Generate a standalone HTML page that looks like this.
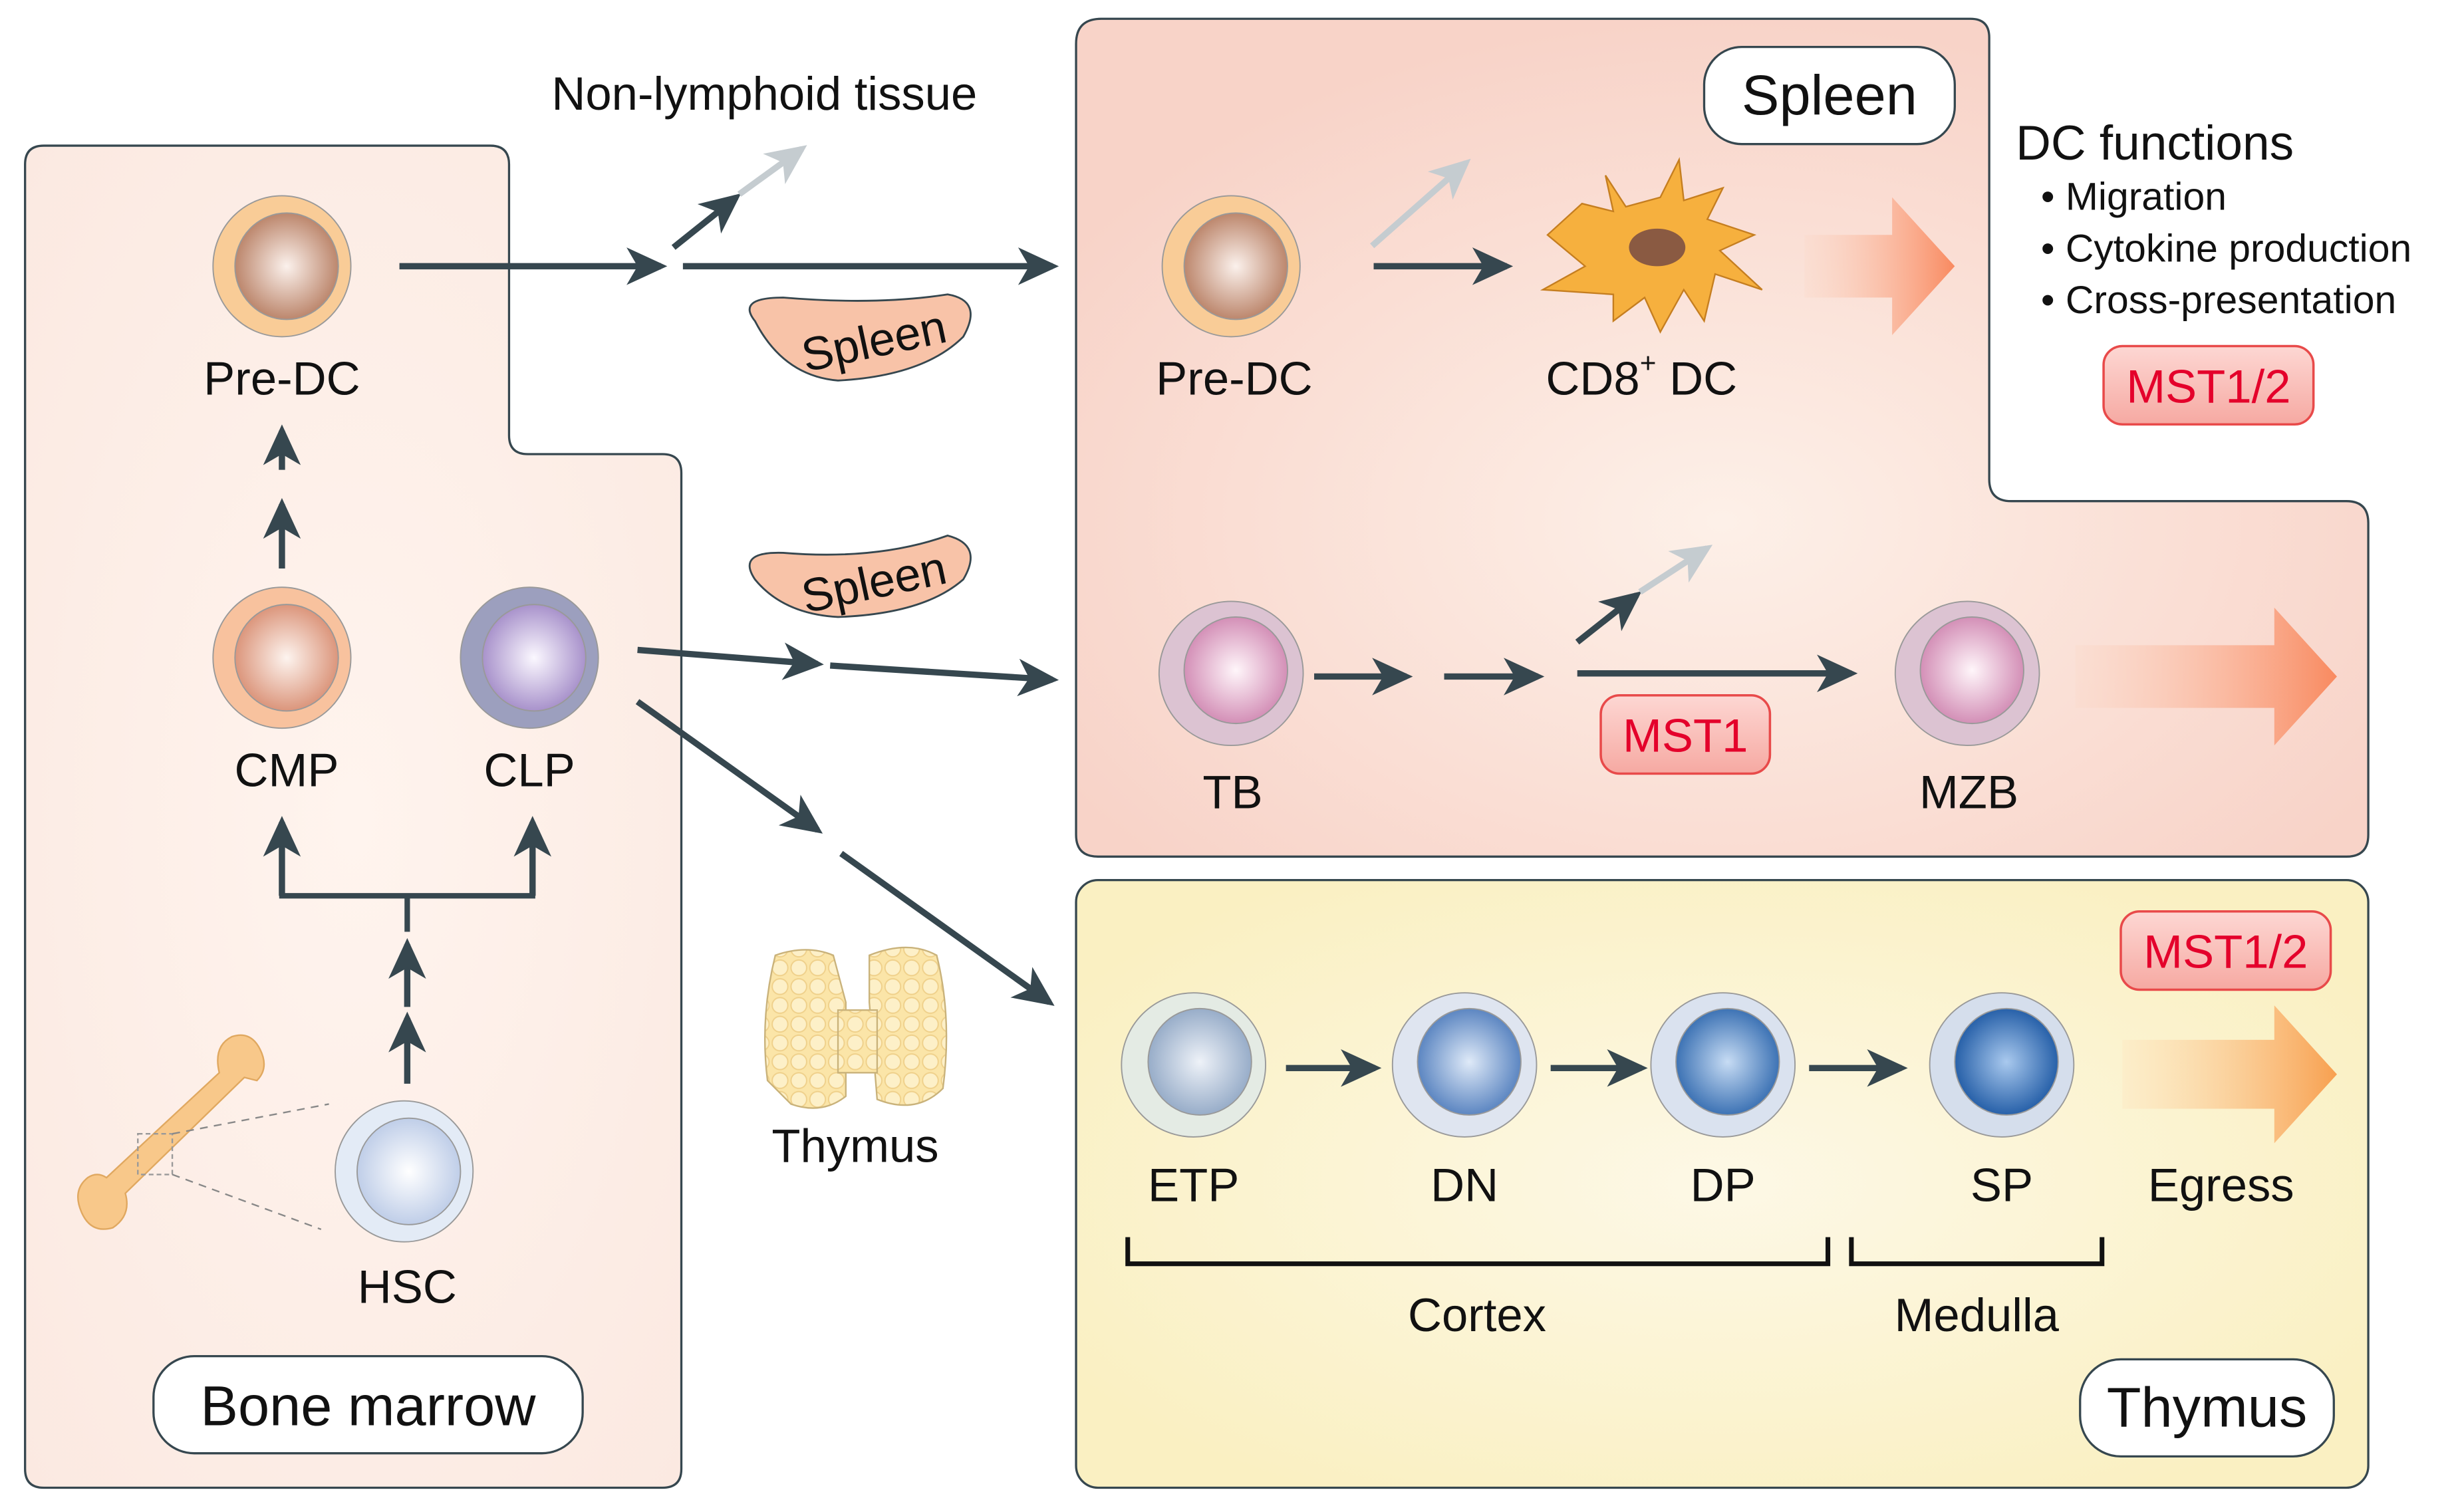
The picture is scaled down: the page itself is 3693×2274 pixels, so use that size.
<!DOCTYPE html>
<html><head><meta charset="utf-8"><style>
html,body{margin:0;padding:0;background:#fff;}
svg{display:block;}
text{font-family:"Liberation Sans",sans-serif;fill:#111;}
</style></head><body>
<svg width="3693" height="2274" viewBox="0 0 1568 965.5" preserveAspectRatio="none" xmlns="http://www.w3.org/2000/svg">
<defs>
<marker id="a" markerUnits="userSpaceOnUse" markerWidth="26" markerHeight="26" refX="22" refY="13" orient="auto"><path d="M0,1 L26,13 L0,25 L7,13 Z" fill="#36474f"/></marker>
<marker id="g" markerUnits="userSpaceOnUse" markerWidth="26" markerHeight="26" refX="22" refY="13" orient="auto"><path d="M0,1 L26,13 L0,25 L7,13 Z" fill="#c5ccd0"/></marker>
<radialGradient id="bm" cx="0.5" cy="0.5" r="0.7"><stop offset="0" stop-color="#fff4ee"/><stop offset="1" stop-color="#fbe9e1"/></radialGradient>
<radialGradient id="sp" cx="0.5" cy="0.6" r="0.6"><stop offset="0" stop-color="#fdf0e8"/><stop offset="1" stop-color="#f8d3c8"/></radialGradient>
<radialGradient id="th" cx="0.5" cy="0.5" r="0.6"><stop offset="0" stop-color="#fdf8e6"/><stop offset="1" stop-color="#faf0c2"/></radialGradient>
<radialGradient id="brown" cx="0.5" cy="0.5" r="0.55"><stop offset="0" stop-color="#fbf1ec"/><stop offset="1" stop-color="#b67c60"/></radialGradient>
<radialGradient id="cmp" cx="0.5" cy="0.5" r="0.55"><stop offset="0" stop-color="#fdf4ef"/><stop offset="1" stop-color="#d88c70"/></radialGradient>
<radialGradient id="purp" cx="0.5" cy="0.5" r="0.55"><stop offset="0" stop-color="#fbf8ff"/><stop offset="1" stop-color="#a088c6"/></radialGradient>
<radialGradient id="pink" cx="0.5" cy="0.5" r="0.55"><stop offset="0" stop-color="#fff6fa"/><stop offset="1" stop-color="#cf85b0"/></radialGradient>
<radialGradient id="blue1" cx="0.5" cy="0.5" r="0.55"><stop offset="0" stop-color="#ffffff"/><stop offset="1" stop-color="#b9c9e6"/></radialGradient>
<radialGradient id="blue2" cx="0.5" cy="0.5" r="0.55"><stop offset="0" stop-color="#eef2f8"/><stop offset="1" stop-color="#8fa6c4"/></radialGradient>
<radialGradient id="blue3" cx="0.5" cy="0.5" r="0.55"><stop offset="0" stop-color="#dfeaf8"/><stop offset="1" stop-color="#4f7cbc"/></radialGradient>
<radialGradient id="blue4" cx="0.5" cy="0.5" r="0.55"><stop offset="0" stop-color="#c7dcf4"/><stop offset="1" stop-color="#2f68ae"/></radialGradient>
<radialGradient id="blue5" cx="0.5" cy="0.5" r="0.55"><stop offset="0" stop-color="#a9c9ee"/><stop offset="1" stop-color="#1a56a2"/></radialGradient>
<linearGradient id="bigArr" x1="0" x2="1"><stop offset="0" stop-color="#fbd8c8" stop-opacity="0.3"/><stop offset="1" stop-color="#f98a60"/></linearGradient>
<linearGradient id="bigArrY" x1="0" x2="1"><stop offset="0" stop-color="#fde6c0" stop-opacity="0.4"/><stop offset="1" stop-color="#f8a050"/></linearGradient>
<linearGradient id="mst" x1="0" y1="0" x2="0" y2="1"><stop offset="0" stop-color="#fdd7d3"/><stop offset="1" stop-color="#f6a9a2"/></linearGradient>
<pattern id="lob" width="12" height="12" patternUnits="userSpaceOnUse"><rect width="12" height="12" fill="#fbe5a8"/><circle cx="6" cy="6" r="5" fill="#fdf0c8" stroke="#efd08a" stroke-width="0.8"/></pattern>
</defs>

<!-- Panels -->
<path d="M28,93 H313 Q325,93 325,105 V278 Q325,290 337,290 H423 Q435,290 435,302 V938 Q435,950 423,950 H28 Q16,950 16,938 V105 Q16,93 28,93 Z" fill="url(#bm)" stroke="#36474f" stroke-width="1.4"/>
<path d="M703,12 H1258 Q1270,12 1270,24 V306 Q1270,320 1284,320 H1498 Q1512,320 1512,334 V533 Q1512,547 1498,547 H701 Q687,547 687,533 V28 Q687,12 703,12 Z" fill="url(#sp)" stroke="#36474f" stroke-width="1.4"/>
<rect x="687" y="562" width="825" height="388" rx="14" fill="url(#th)" stroke="#36474f" stroke-width="1.4"/>

<!-- label boxes -->
<rect x="1088" y="30" width="160" height="62" rx="24" fill="#fff" stroke="#36474f" stroke-width="1.4"/>
<text x="1168" y="73" font-size="36" text-anchor="middle">Spleen</text>
<rect x="98" y="866" width="274" height="62" rx="26" fill="#fff" stroke="#36474f" stroke-width="1.4"/>
<text x="235" y="910" font-size="36" text-anchor="middle">Bone marrow</text>
<rect x="1328" y="868" width="162" height="62" rx="26" fill="#fff" stroke="#36474f" stroke-width="1.4"/>
<text x="1409" y="911" font-size="36" text-anchor="middle">Thymus</text>

<!-- cells -->
<g stroke="#999" stroke-width="0.8">
<ellipse cx="180" cy="170" rx="44" ry="45" fill="#f9cc97"/><ellipse cx="183" cy="170" rx="33" ry="34" fill="url(#brown)"/>
<ellipse cx="180" cy="420" rx="44" ry="45" fill="#f8c29e"/><ellipse cx="183" cy="420" rx="33" ry="34" fill="url(#cmp)"/>
<ellipse cx="338" cy="420" rx="44" ry="45" fill="#9c9fbe"/><ellipse cx="341" cy="420" rx="33" ry="34" fill="url(#purp)"/>
<ellipse cx="258" cy="748" rx="44" ry="45" fill="#e3ebf6"/><ellipse cx="261" cy="748" rx="33" ry="34" fill="url(#blue1)"/>
<ellipse cx="786" cy="170" rx="44" ry="45" fill="#f9cc97"/><ellipse cx="789" cy="170" rx="33" ry="34" fill="url(#brown)"/>
<ellipse cx="786" cy="430" rx="46" ry="46" fill="#dcc3d2"/><ellipse cx="789" cy="428" rx="33" ry="34" fill="url(#pink)"/>
<ellipse cx="1256" cy="430" rx="46" ry="46" fill="#dcc3d2"/><ellipse cx="1259" cy="428" rx="33" ry="34" fill="url(#pink)"/>
<ellipse cx="762" cy="680" rx="46" ry="46" fill="#e4ebe4"/><ellipse cx="766" cy="678" rx="33" ry="34" fill="url(#blue2)"/>
<ellipse cx="935" cy="680" rx="46" ry="46" fill="#dfe5f0"/><ellipse cx="938" cy="678" rx="33" ry="34" fill="url(#blue3)"/>
<ellipse cx="1100" cy="680" rx="46" ry="46" fill="#dae2ef"/><ellipse cx="1103" cy="678" rx="33" ry="34" fill="url(#blue4)"/>
<ellipse cx="1278" cy="680" rx="46" ry="46" fill="#d5deec"/><ellipse cx="1281" cy="678" rx="33" ry="34" fill="url(#blue5)"/>
</g>
<!-- CD8 DC -->
<g fill="#f6b03e" stroke="#c57e20" stroke-width="1">
<path d="M1010,130 L1030,135 L1025,112 L1038,132 L1060,126 L1072,102 L1075,128 L1100,120 L1090,140 L1120,150 L1098,160 L1125,185 L1095,175 L1088,205 L1075,185 L1060,212 L1050,190 L1030,205 L1030,188 L985,185 L1012,170 L988,150 Z"/>
</g>
<ellipse cx="1058" cy="158" rx="18" ry="12" fill="#8a5a42"/>
<!-- bone -->
<path d="M140,685 Q136,668 148,662 Q160,658 166,670 Q172,682 164,690 L156,688 L80,762 Q84,776 72,784 Q58,788 52,774 Q46,760 56,752 Q62,748 68,752 L140,685 Z" fill="#f8c88a" stroke="#e0a860" stroke-width="1"/>
<rect x="88" y="724" width="22" height="26" fill="none" stroke="#999" stroke-dasharray="3,2"/>
<line x1="110" y1="724" x2="210" y2="705" stroke="#888" stroke-dasharray="5,4"/>
<line x1="110" y1="750" x2="205" y2="785" stroke="#888" stroke-dasharray="5,4"/>
<!-- thymus -->
<g fill="url(#lob)" stroke="#c9b27a" stroke-width="1">
<path d="M495,610 Q515,603 532,610 L540,640 L540,700 Q525,712 505,705 L490,690 Q485,650 495,610 Z"/>
<path d="M555,610 Q580,600 598,610 Q608,650 602,695 Q585,712 560,702 L555,640 Z"/>
<rect x="535" y="645" width="25" height="40"/>
</g>
<!-- spleen shapes -->
<path d="M482,205 Q470,190 500,190 Q560,195 605,188 Q628,192 615,215 Q590,240 535,243 Q500,240 482,205 Z" fill="#f8c3a8" stroke="#36474f" stroke-width="1.2"/>
<text x="558" y="228" font-size="30" text-anchor="middle" transform="rotate(-12 558 218)">Spleen</text>
<path d="M482,370 Q470,352 500,353 Q560,358 605,342 Q628,348 615,370 Q590,392 535,394 Q500,392 482,370 Z" fill="#f8c3a8" stroke="#36474f" stroke-width="1.2"/>
<text x="558" y="382" font-size="30" text-anchor="middle" transform="rotate(-12 558 372)">Spleen</text>

<!-- arrows -->
<g stroke="#36474f" stroke-width="4" fill="none">
<line x1="255" y1="170" x2="422" y2="170" marker-end="url(#a)"/>
<line x1="436" y1="170" x2="672" y2="170" marker-end="url(#a)"/>
<line x1="430" y1="158" x2="470" y2="126" marker-end="url(#a)"/>
<line x1="180" y1="363" x2="180" y2="322" marker-end="url(#a)"/>
<line x1="180" y1="300" x2="180" y2="275" marker-end="url(#a)"/>
<polyline points="180,545 180,572 340,572 340,545" stroke-width="3.5"/>
<line x1="180" y1="572" x2="180" y2="525" marker-end="url(#a)"/>
<line x1="340" y1="572" x2="340" y2="525" marker-end="url(#a)"/>
<line x1="260" y1="572" x2="260" y2="595" stroke-width="3.5"/>
<line x1="260" y1="643" x2="260" y2="603" marker-end="url(#a)"/>
<line x1="260" y1="692" x2="260" y2="650" marker-end="url(#a)"/>
<line x1="407" y1="415" x2="522" y2="424" marker-end="url(#a)"/>
<line x1="530" y1="425" x2="672" y2="434" marker-end="url(#a)"/>
<line x1="407" y1="448" x2="522" y2="530" marker-end="url(#a)"/>
<line x1="537" y1="545" x2="670" y2="640" marker-end="url(#a)"/>
<line x1="877" y1="170" x2="962" y2="170" marker-end="url(#a)"/>
<line x1="839" y1="432" x2="898" y2="432" marker-end="url(#a)"/>
<line x1="922" y1="432" x2="982" y2="432" marker-end="url(#a)"/>
<line x1="1007" y1="430" x2="1182" y2="430" marker-end="url(#a)"/>
<line x1="1007" y1="410" x2="1045" y2="380" marker-end="url(#a)"/>
<line x1="821" y1="682" x2="878" y2="682" marker-end="url(#a)"/>
<line x1="990" y1="682" x2="1048" y2="682" marker-end="url(#a)"/>
<line x1="1155" y1="682" x2="1214" y2="682" marker-end="url(#a)"/>
</g>
<g stroke="#c5ccd0" stroke-width="4" fill="none">
<line x1="472" y1="124" x2="512" y2="95" marker-end="url(#g)"/>
<line x1="876" y1="157" x2="936" y2="104" marker-end="url(#g)"/>
<line x1="1047" y1="378" x2="1090" y2="350" marker-end="url(#g)"/>
</g>
<!-- big arrows -->
<path d="M1152,150 H1208 V126 L1248,170 L1208,214 V190 H1152 Z" fill="url(#bigArr)"/>
<path d="M1325,412 H1452 V388 L1492,432 L1452,476 V452 H1325 Z" fill="url(#bigArr)"/>
<path d="M1355,664 H1452 V642 L1492,686 L1452,730 V708 H1355 Z" fill="url(#bigArrY)"/>

<!-- MST boxes -->
<rect x="1343" y="221" width="134" height="50" rx="12" fill="url(#mst)" stroke="#e84a4a" stroke-width="1.5"/>
<text x="1410" y="257" font-size="30" text-anchor="middle" style="fill:#e4002b">MST1/2</text>
<rect x="1022" y="444" width="108" height="50" rx="12" fill="url(#mst)" stroke="#e84a4a" stroke-width="1.5"/>
<text x="1076" y="480" font-size="30" text-anchor="middle" style="fill:#e4002b">MST1</text>
<rect x="1354" y="582" width="134" height="50" rx="12" fill="url(#mst)" stroke="#e84a4a" stroke-width="1.5"/>
<text x="1421" y="618" font-size="30" text-anchor="middle" style="fill:#e4002b">MST1/2</text>

<!-- brackets -->
<polyline points="720,790 720,807 1167,807 1167,790" fill="none" stroke="#111" stroke-width="3"/>
<polyline points="1182,790 1182,807 1342,807 1342,790" fill="none" stroke="#111" stroke-width="3"/>

<!-- labels -->
<g font-size="30" text-anchor="middle">
<text x="488" y="70">Non-lymphoid tissue</text>
<text x="180" y="252">Pre-DC</text>
<text x="183" y="502">CMP</text>
<text x="338" y="502">CLP</text>
<text x="260" y="832">HSC</text>
<text x="546" y="742">Thymus</text>
<text x="788" y="252">Pre-DC</text>
<text x="1048" y="252">CD8<tspan font-size="18" dy="-14">+</tspan><tspan dy="14"> DC</tspan></text>
<text x="787" y="516">TB</text>
<text x="1257" y="516">MZB</text>
<text x="762" y="767">ETP</text>
<text x="935" y="767">DN</text>
<text x="1100" y="767">DP</text>
<text x="1278" y="767">SP</text>
<text x="1418" y="767">Egress</text>
<text x="943" y="850">Cortex</text>
<text x="1262" y="850">Medulla</text>
</g>
<text x="1287" y="102" font-size="31">DC functions</text>
<g font-size="25">
<text x="1303" y="134">• Migration</text>
<text x="1303" y="167">• Cytokine production</text>
<text x="1303" y="200">• Cross-presentation</text>
</g>
</svg>
</body></html>
